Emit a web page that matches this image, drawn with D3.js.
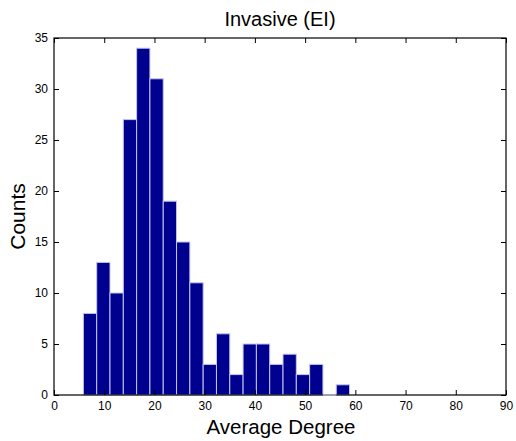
<!DOCTYPE html>
<html>
<head>
<meta charset="utf-8">
<script src="https://cdn.jsdelivr.net/npm/d3@7"></script>
<style>
  html, body { margin: 0; padding: 0; background: #fff; }
  svg text { font-family: "Liberation Sans", Arial, Helvetica, sans-serif; fill: #000; }
</style>
</head>
<body>
<svg id="chart" width="516" height="441"></svg>
<script>
// Histogram of average degree: 20 equal-width bins
const binStart = 5.85;
const binWidth = 2.65;
const counts = [8, 13, 10, 27, 34, 31, 19, 15, 11, 3, 6, 2, 5, 5, 3, 4, 2, 3, 0, 1];
const xTicks = [0, 10, 20, 30, 40, 50, 60, 70, 80, 90];
const yTicks = [0, 5, 10, 15, 20, 25, 30, 35];
const titleText = "Invasive (EI)";
const xLabel = "Average Degree";
const yLabel = "Counts";

const bins = counts.map((c, i) => ({
  x0: binStart + i * binWidth,
  x1: binStart + (i + 1) * binWidth,
  count: c
}));

const margin = { left: 54, right: 10, top: 38, bottom: 46 };
const width = 516, height = 441;
const svg = d3.select("#chart");

const x = d3.scaleLinear().domain([0, 90]).range([margin.left, width - margin.right]);
const y = d3.scaleLinear().domain([0, 35]).range([height - margin.bottom, margin.top]);

// bars
svg.append("g").selectAll("rect").data(bins).join("rect")
  .attr("x", d => x(d.x0))
  .attr("y", d => y(d.count))
  .attr("width", d => x(d.x1) - x(d.x0))
  .attr("height", d => y(0) - y(d.count))
  .attr("fill", "#00008f")
  .attr("stroke", "#c4c4ee")
  .attr("stroke-width", 1);

const tickLen = 5;
const tickFont = 12;

// bottom axis with inward ticks
const gx = svg.append("g").attr("transform", `translate(0,${y(0)})`)
  .call(d3.axisBottom(x).tickValues(xTicks).tickSizeInner(-tickLen).tickSizeOuter(0).tickPadding(6));
gx.select(".domain").remove();
gx.selectAll("text").attr("font-size", tickFont).attr("font-family", "Liberation Sans, Arial, sans-serif");

// top ticks
const gxTop = svg.append("g").attr("transform", `translate(0,${y(35)})`)
  .call(d3.axisTop(x).tickValues(xTicks).tickSizeInner(-tickLen).tickSizeOuter(0).tickFormat(""));
gxTop.select(".domain").remove();

// left axis with inward ticks
const gy = svg.append("g").attr("transform", `translate(${x(0)},0)`)
  .call(d3.axisLeft(y).tickValues(yTicks).tickSizeInner(-tickLen).tickSizeOuter(0).tickPadding(6));
gy.select(".domain").remove();
gy.selectAll("text").attr("font-size", tickFont).attr("font-family", "Liberation Sans, Arial, sans-serif");

// right ticks
const gyR = svg.append("g").attr("transform", `translate(${x(90)},0)`)
  .call(d3.axisRight(y).tickValues(yTicks).tickSizeInner(-tickLen).tickSizeOuter(0).tickFormat(""));
gyR.select(".domain").remove();

// axes frame
svg.append("rect")
  .attr("x", x(0)).attr("y", y(35))
  .attr("width", x(90) - x(0)).attr("height", y(0) - y(35))
  .attr("fill", "none").attr("stroke", "#000").attr("stroke-width", 1.2);

// outline of empty bins sits on top of the baseline
svg.append("g").selectAll("line").data(bins.filter(d => d.count === 0)).join("line")
  .attr("x1", d => x(d.x0)).attr("x2", d => x(d.x1))
  .attr("y1", y(0)).attr("y2", y(0))
  .attr("stroke", "#c4c4ee").attr("stroke-width", 1.2);

svg.selectAll(".tick line").attr("stroke", "#000");

// title and axis labels
const cx = (x(0) + x(90)) / 2;
svg.append("text").attr("x", cx).attr("y", 26)
  .attr("text-anchor", "middle").attr("font-size", 20).text(titleText);
svg.append("text").attr("x", cx + 1).attr("y", 434)
  .attr("text-anchor", "middle").attr("font-size", 20.5).text(xLabel);
svg.append("text").attr("transform", `translate(25,${(y(0) + y(35)) / 2}) rotate(-90)`)
  .attr("text-anchor", "middle").attr("font-size", 21).text(yLabel);
</script>
</body>
</html>
